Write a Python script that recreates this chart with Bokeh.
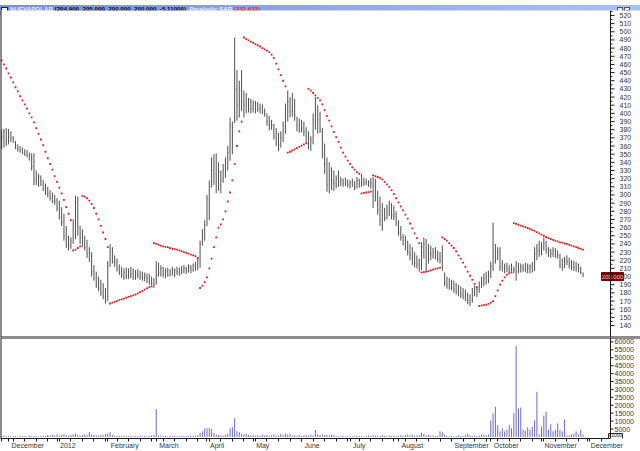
from bokeh.plotting import figure
from bokeh.layouts import column
from bokeh.models import (Div, Range1d, FixedTicker, LinearAxis, Span, ColumnDataSource)
from bokeh.core.properties import value
from bokeh.transform import dodge
from bokeh.embed import file_html
from bokeh.resources import INLINE

# ---------------- data ----------------
symbol = "NUEVAPOLAR"
last_ohlc = [204.900, 205.000, 200.000, 200.000, -5.11000]
sar_last = 232.633

month_labels = ["December", "2012", "February", "March", "April", "May", "June",
                "July", "August", "September", "October", "November", "December"]
month_lengths = [21, 22, 21, 22, 20, 21, 21, 21, 23, 17, 22, 20]  # trading days
lead_bars = 3

high = [
    380, 381, 382, 381, 378, 372, 366, 362, 360, 358,
    356, 355, 352, 351, 351, 330, 326, 324, 318, 314,
    310, 306, 303, 300, 296, 293, 285, 277, 262, 250,
    248, 270, 299, 298, 262, 258, 250, 245, 236, 230,
    214, 206, 200, 196, 192, 186, 219, 240, 236, 226,
    222, 215, 212, 210, 211, 210, 212, 210, 208, 209,
    207, 206, 205, 204, 203, 200, 198, 219, 217, 214,
    212, 210, 211, 209, 212, 210, 212, 211, 213, 214,
    212, 215, 214, 216, 218, 224, 244, 258, 269, 300,
    318, 346, 350, 351, 340, 330, 338, 346, 360, 395,
    390, 493, 453, 440, 453, 428, 425, 419, 418, 416,
    415, 414, 412, 411, 406, 400, 397, 392, 387, 382,
    376, 378, 390, 412, 428, 420, 425, 418, 396, 394,
    392, 390, 383, 378, 372, 400, 420, 410, 402, 382,
    363, 346, 340, 334, 330, 324, 330, 322, 320, 321,
    319, 318, 320, 317, 322, 320, 326, 321, 320, 318,
    321, 322, 320, 305, 298, 290, 284, 288, 293, 290,
    287, 280, 269, 262, 252, 250, 244, 240, 236, 230,
    226, 222, 242, 248, 246, 240, 238, 235, 236, 232,
    230, 238, 205, 200, 198, 196, 195, 192, 190, 188,
    186, 184, 180, 178, 186, 189, 186, 194, 200, 204,
    206, 207, 218, 266, 240, 236, 236, 220, 216, 217,
    214, 216, 212, 219, 217, 216, 215, 217, 216, 215,
    218, 236, 240, 244, 242, 248, 244, 236, 234, 236,
    235, 232, 228, 222, 224, 226, 223, 220, 219, 218,
    216, 212, 205,
]
low = [
    356, 358, 360, 362, 365, 364, 356, 353, 352, 350,
    348, 346, 342, 330, 312, 312, 310, 311, 305, 300,
    297, 293, 290, 288, 280, 270, 262, 244, 235, 232,
    234, 240, 246, 250, 240, 236, 232, 223, 218, 200,
    195, 186, 182, 176, 172, 167, 170, 212, 216, 212,
    206, 202, 198, 196, 197, 197, 198, 196, 196, 198,
    196, 195, 194, 192, 190, 189, 186, 190, 200, 200,
    199, 198, 200, 200, 201, 199, 202, 201, 203, 204,
    203, 205, 204, 206, 207, 208, 211, 238, 244, 262,
    269, 309, 312, 302, 305, 302, 315, 321, 330, 342,
    350, 388, 391, 395, 403, 395, 400, 401, 400, 401,
    400, 402, 400, 399, 396, 385, 379, 380, 368, 360,
    354, 358, 365, 375, 390, 395, 396, 391, 378, 376,
    377, 372, 365, 356, 354, 362, 380, 375, 376, 345,
    326, 304, 302, 306, 305, 308, 310, 311, 310, 311,
    309, 308, 310, 306, 308, 309, 310, 311, 312, 310,
    308, 284, 292, 276, 262, 256, 268, 270, 274, 270,
    269, 262, 250, 244, 238, 232, 226, 220, 214, 211,
    210, 206, 208, 222, 207, 216, 220, 222, 221, 218,
    216, 207, 188, 185, 184, 183, 180, 178, 176, 174,
    172, 170, 166, 164, 168, 176, 175, 180, 186, 188,
    190, 192, 198, 207, 216, 220, 207, 206, 204, 205,
    205, 206, 204, 195, 204, 205, 206, 205, 204, 204,
    205, 207, 220, 224, 226, 232, 228, 224, 223, 224,
    223, 222, 210, 207, 210, 214, 210, 208, 207, 206,
    205, 203, 200,
]
close = [
    372, 378, 365, 376, 370, 367, 358, 356, 355, 352,
    350, 348, 345, 335, 318, 320, 322, 318, 308, 305,
    302, 296, 293, 292, 284, 274, 266, 250, 240, 238,
    244, 262, 290, 262, 248, 244, 236, 228, 222, 206,
    198, 190, 186, 180, 176, 170, 212, 230, 222, 218,
    210, 206, 202, 205, 200, 206, 203, 200, 204, 202,
    199, 198, 200, 198, 195, 192, 190, 214, 205, 210,
    203, 206, 202, 207, 205, 208, 206, 209, 207, 210,
    208, 212, 209, 213, 215, 220, 240, 250, 262, 295,
    310, 330, 340, 320, 328, 318, 330, 340, 352, 385,
    378, 430, 410, 420, 415, 410, 412, 410, 406, 410,
    408, 405, 406, 403, 400, 390, 385, 386, 372, 366,
    362, 370, 385, 405, 415, 402, 418, 398, 385, 388,
    382, 378, 370, 362, 368, 392, 398, 392, 380, 350,
    338, 312, 322, 318, 314, 320, 316, 318, 314, 316,
    313, 315, 312, 310, 318, 314, 316, 315, 316, 314,
    315, 300, 312, 282, 270, 276, 272, 280, 285, 276,
    274, 266, 254, 248, 244, 236, 230, 226, 218, 216,
    214, 212, 236, 240, 215, 232, 228, 230, 226, 222,
    220, 212, 192, 190, 188, 186, 184, 182, 180, 178,
    176, 174, 170, 168, 182, 186, 184, 190, 195, 198,
    200, 204, 212, 240, 225, 230, 212, 210, 212, 210,
    208, 212, 208, 214, 210, 212, 209, 213, 210, 212,
    214, 228, 232, 238, 236, 240, 232, 230, 228, 232,
    230, 226, 214, 212, 220, 218, 214, 212, 211, 210,
    208, 205, 200,
]
sar = [
    465, 460, 455, 449, 444, 438, 432, 427, 421, 416,
    411, 406, 400, 395, 389, 382, 375, 368, 361, 353,
    345, 338, 331, 323, 316, 309, 302, 294, 285, 277,
    269, 232, 233, 235, 237, 299, 298, 296, 293, 289,
    284, 277, 270, 262, 254, 246, 236, 167, 168, 169,
    170, 171, 172, 173, 174, 175, 176, 177, 178, 179.5,
    181, 182.5, 184, 185.5, 187, 188, 241, 240, 239, 238,
    237, 236.5, 236, 235, 234, 233.5, 233, 232, 231, 230,
    229, 228, 227, 226, 225, 223, 186, 189, 193, 199,
    210, 222, 236, 248, 260, 264, 270, 280, 292, 303,
    318, 338, 360, 378, 390, 493, 491, 489.5, 488, 486.5,
    485, 483.5, 482, 480, 478.5, 477, 475, 472, 468, 461,
    454, 447, 440, 433, 352, 353, 354.5, 356, 357.5, 359,
    360.5, 362, 363.5, 430, 428, 425, 422, 419, 416, 411,
    404, 397, 391, 384, 377, 371, 365, 358, 352, 347,
    342, 338, 334, 331, 328, 326, 302, 302.5, 303, 303.5,
    304, 324, 323, 322, 321, 319, 316, 313, 310, 306,
    301, 296, 291, 286, 281, 276, 271, 265, 259, 253,
    247, 241, 205, 205.5, 206, 206.5, 207.5, 208.5, 209.5, 210,
    211, 248, 246, 244, 241, 238, 235, 231, 226, 222,
    217, 212, 206, 201, 196, 191, 187, 164, 164.5, 165,
    165.5, 166.5, 168, 170, 176, 183, 190, 195, 199, 202,
    204, 205, 265.5, 264.5, 263.5, 262.5, 261.5, 260.5, 259.5, 258.5,
    257, 256, 254.5, 253, 251.5, 250, 248.5, 247, 246, 245,
    244, 243, 242, 241.5, 240.5, 240, 239, 238, 237, 236,
    235, 234, 233,
]
volume = [
    600, 800, 500, 700, 400, 600, 500, 300, 700, 500,
    600, 400, 800, 500, 700, 600, 400, 500, 800, 600,
    1200, 900, 1300, 800, 1500, 1000, 1400, 1700, 1100, 800,
    1300, 1600, 2000, 1200, 900, 1100, 1600, 1000, 3000, 1500,
    1200, 1000, 800, 1300, 1100, 1800, 2200, 3000, 1200, 800,
    600, 700, 500, 800, 600, 500, 700, 400, 600, 500,
    700, 400, 600, 500, 700, 900, 1200, 17600, 800, 600,
    500, 700, 400, 600, 500, 800, 400, 600, 500, 700,
    600, 500, 800, 700, 900, 1000, 2500, 3500, 5300, 5500,
    5500, 5000, 2500, 1600, 1200, 1000, 800, 1500, 2000, 5500,
    6300, 11900, 3600, 3000, 1800, 1600, 2000, 1200, 900, 1400,
    800, 1100, 700, 1500, 900, 1300, 800, 1000, 1600, 900,
    700, 2000, 1200, 2200, 1500, 1900, 800, 1100, 700, 1300,
    600, 900, 1200, 800, 1500, 1000, 4400, 1600, 1300, 1500,
    1200, 1400, 1000, 1500, 1200, 600, 400, 500, 700, 400,
    600, 300, 500, 400, 800, 600, 500, 400, 700, 900,
    600, 1200, 800, 600, 500, 1200, 700, 400, 900, 600,
    1000, 500, 700, 1100, 800, 1200, 1500, 900, 1400, 700,
    1000, 1200, 2700, 1800, 900, 1300, 700, 1000, 600, 800,
    3600, 3000, 1500, 600, 500, 700, 400, 600, 900, 500,
    700, 1200, 2000, 1000, 600, 800, 500, 900, 1500, 1500,
    1000, 1500, 10500, 15000, 19000, 7500, 3500, 5500, 3500, 4500,
    7500, 5500, 15000, 57500, 18000, 18500, 4500, 4000, 6000, 4500,
    6500, 10500, 28500, 1500, 6500, 13500, 16000, 4500, 8000, 3500,
    4500, 8500, 4500, 3500, 11000, 1000, 1000, 1500, 2000, 3500,
    1500, 4500, 1500,
]
price_ticks = list(range(140, 530, 10))
vol_ticks = list(range(5000, 65000, 5000))
volume_unit_label = "x1000"

N = len(close)
assert len(high) == N and len(low) == N and len(sar) == N and len(volume) == N

# ---------------- layout constants ----------------
W = 640
PLOT_W = 610                      # width of the data area; right of it is the scale strip
X_START, X_END = -0.5, 263.9
px_per_bar = PLOT_W / (X_END - X_START)
X_FULL = X_START + W / px_per_bar
P_Y0, P_Y1 = 125.3, 526.1
V_Y0, V_Y1 = -1000, 62800
MAIN_H = 327
VOL_H = 114
AXIS_FONT = "Liberation Sans"
FS = 7.0
INK = "#1a1a1a"
LABEL_INK = "#333333"

# Arial/Liberation Sans advance widths (per 1000 em) for the month label glyphs
ADV = {"D": 722, "e": 556, "c": 500, "m": 833, "b": 556, "r": 333, "2": 556, "0": 556,
       "1": 556, "F": 611, "u": 556, "a": 556, "y": 500, "M": 833, "h": 556, "A": 667,
       "p": 556, "i": 222, "l": 222, "J": 500, "n": 556, "g": 556, "s": 500, "S": 667,
       "t": 278, "O": 778, "o": 556, "N": 722, "v": 500}


def text_w(s):
    return sum(ADV.get(ch, 556) for ch in s) * FS / 1000.0


month_starts = [lead_bars]
for n in month_lengths:
    month_starts.append(month_starts[-1] + n)
label_pos = [s + (3 + text_w(t) / 2) / px_per_bar for s, t in zip(month_starts, month_labels)]
week_ticks = list(range(0, 264, 5))

src = ColumnDataSource(dict(x=list(range(N)), high=high, low=low, close=close,
                            sar=sar, vol=volume))
price_src = ColumnDataSource(dict(t=price_ticks, lab=[str(v) for v in price_ticks],
                                  tm=[v + 5 for v in price_ticks]))
vol_src = ColumnDataSource(dict(t=vol_ticks, lab=[str(v) for v in vol_ticks]))

# ---------------- title bar ----------------
o, h, l, c, chg = last_ohlc
title_html = (
    '<div style="display:flex;align-items:center;height:10px;width:640px;'
    'background:linear-gradient(to right,#7a8fd6,#a9c1f2);border-bottom:1px solid #3a3a3a;'
    'font-family:\'Liberation Sans\',Arial,sans-serif;font-size:6.2px;font-weight:bold;'
    'white-space:nowrap;overflow:hidden;box-sizing:border-box;">'
    '<span style="display:inline-block;width:7px;height:5px;background:#fff;'
    'border:1px solid #222;margin:0 2px 0 1px;"></span>'
    f'<span style="color:#e4ecff">{symbol}</span>&nbsp;'
    f'<span style="color:#08082a">({o:.3f}, {h:.3f}, {l:.3f}, {c:.3f}, {chg:.5f})</span>'
    '<span style="color:#e4ecff">,&nbsp;Parabolic SAR</span>&nbsp;'
    f'<span style="color:#ff2020">({sar_last:.3f})</span>'
    '<span style="margin-left:auto;display:inline-block;width:6px;height:6px;background:#e8e8e8;'
    'border:1px solid #555;margin-right:1px;"></span>'
    '<span style="display:inline-block;width:6px;height:6px;background:#e8e8e8;border:1px solid #555;'
    'margin-right:10px;font-size:6px;line-height:6px;text-align:center;color:#000;">&times;</span>'
    '</div>'
)
title = Div(text=title_html, width=W, height=10, margin=0)


def base_fig(height, y0, y1, x_range=None):
    f = figure(width=W, height=height,
               x_range=x_range if x_range is not None else Range1d(X_START, X_FULL),
               y_range=Range1d(y0, y1), output_backend="svg", toolbar_location=None,
               x_axis_location=None, y_axis_location=None,
               min_border_left=0, min_border_right=0, min_border_top=0, min_border_bottom=0,
               margin=0)
    f.background_fill_color = "white"
    f.border_fill_color = "white"
    f.outline_line_color = None
    f.xgrid.visible = False
    f.ygrid.visible = False
    # left frame edge and right scale line
    f.add_layout(Span(location=X_START, dimension="height", line_color=INK, line_width=2))
    f.add_layout(Span(location=X_END, dimension="height", line_color=INK, line_width=1))
    return f


# ---------------- price panel ----------------
p = base_fig(MAIN_H, P_Y0, P_Y1)
p.add_layout(Span(location=P_Y0, dimension="width", line_color=INK, line_width=2))

p.segment(x0="x", y0="low", x1="x", y1="high", source=src, line_color="#3a3a3a", line_width=0.9)
p.segment(x0="x", y0="close", x1=dodge("x", 0.35), y1="close", source=src,
          line_color="#6a6a6a", line_width=0.8)
p.scatter(x="x", y="sar", source=src, marker="square", size=1.8,
          fill_color="#d81e1e", line_color=None)

# price scale (right strip)
p.ray(x=X_END, y="t", length=4, angle=0, length_units="screen", source=price_src,
      line_color=INK, line_width=1)
p.ray(x=X_END, y="tm", length=2, angle=0, length_units="screen", source=price_src,
      line_color=INK, line_width=1)
p.text(x=X_END, y="t", text="lab", source=price_src, x_offset=9,
       text_font=value(AXIS_FONT), text_font_size=f"{FS}px", text_color=LABEL_INK,
       text_align="left", text_baseline="middle")
# last price marker
p.rect(x=X_END + 2 / px_per_bar, y=close[-1], width=22, height=8,
       width_units="screen", height_units="screen", fill_color="#6e0000", line_color="#6e0000")
p.text(x=X_END + 2 / px_per_bar, y=close[-1], text=[f"{close[-1]:.3f}"],
       text_font=value(AXIS_FONT), text_font_size="6px", text_color="#ffc8c8",
       text_align="center", text_baseline="middle")

# ---------------- volume panel ----------------
pv = base_fig(VOL_H, V_Y0, V_Y1, x_range=p.x_range)
pv.add_layout(Span(location=V_Y1, dimension="width", line_color=INK, line_width=2))

pv.segment(x0="x", y0=0, x1="x", y1="vol", source=src, line_color="#6a6ac2", line_width=1)

pv.ray(x=X_END, y="t", length=3, angle=0, length_units="screen", source=vol_src,
       line_color=INK, line_width=1)
pv.text(x=X_END, y="t", text="lab", source=vol_src, x_offset=4,
        text_font=value(AXIS_FONT), text_font_size=f"{FS}px", text_color=LABEL_INK,
        text_align="left", text_baseline="middle")
pv.rect(x=X_END + 5 / px_per_bar, y=V_Y0, width=14, height=10,
        width_units="screen", height_units="screen", fill_color="white", line_color="#333333")
pv.text(x=X_END + 5 / px_per_bar, y=V_Y0, text=[volume_unit_label], y_offset=-0.5,
        text_font=value(AXIS_FONT), text_font_size="5px", text_color="#111111",
        text_align="center", text_baseline="bottom")

xax = LinearAxis(ticker=FixedTicker(ticks=label_pos, minor_ticks=week_ticks + month_starts),
                 major_label_overrides={pos: t for pos, t in zip(label_pos, month_labels)},
                 bounds=(X_START, X_END))
xax.axis_line_color = INK
xax.major_tick_line_color = None
xax.minor_tick_line_color = INK
xax.major_tick_out = 0
xax.major_tick_in = 0
xax.minor_tick_out = 3
xax.minor_tick_in = 0
xax.major_label_standoff = 0
xax.major_label_text_font = AXIS_FONT
xax.major_label_text_font_size = f"{FS}px"
xax.major_label_text_color = LABEL_INK
pv.add_layout(xax, "below")

layout = column(title, p, pv, margin=0, spacing=0)
open("out.html", "w").write(file_html(layout, INLINE))
